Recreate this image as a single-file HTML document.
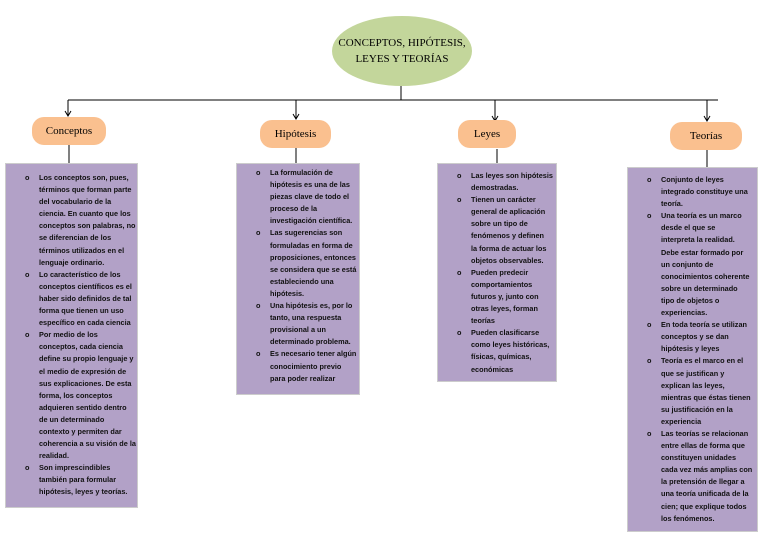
<!DOCTYPE html>
<html><head><meta charset="utf-8"><style>
body{margin:0;width:768px;height:548px;background:#fff;position:relative;overflow:hidden;font-family:"Liberation Sans",sans-serif}
.e{position:absolute;left:332px;top:16px;width:140px;height:70px;border-radius:50%;background:#c3d69b;text-align:center;font-family:"Liberation Serif",serif;font-size:11px;line-height:16px;box-sizing:border-box;padding-top:19px}
.p{position:absolute;height:28px;border-radius:12px;background:#fac08f;font-family:"Liberation Serif",serif;font-size:11px;line-height:28px;text-align:center}
.b{position:absolute;background:#b2a1c7;border:1px solid #ccc;box-sizing:border-box}
.b ul{margin:0;padding:0;list-style:none}
.b li{position:relative;padding-left:33px;font-size:7.3px;font-weight:bold;line-height:12.1px;white-space:nowrap;color:#111}
.b li:before{content:"o";position:absolute;left:19px;top:0}
</style></head><body>
<svg width="768" height="548" style="position:absolute;left:0;top:0">
<g stroke="#000" stroke-width="1" fill="none">
<line x1="401" y1="86" x2="401" y2="100"/>
<line x1="68" y1="100" x2="718" y2="100"/>
<line x1="68" y1="100" x2="68" y2="116"/><path d="M65 111 L68 116 L71 111"/>
<line x1="296" y1="100" x2="296" y2="119"/><path d="M293 114 L296 119 L299 114"/>
<line x1="495" y1="100" x2="495" y2="121"/><path d="M492 116 L495 121 L498 116"/>
<line x1="707" y1="100" x2="707" y2="121"/><path d="M704 116 L707 121 L710 116"/>
<line x1="69" y1="145" x2="69" y2="163"/>
<line x1="296" y1="148" x2="296" y2="163"/>
<line x1="497" y1="149" x2="497" y2="163"/>
<line x1="707" y1="149" x2="707" y2="167"/>
</g></svg>
<div class="e">CONCEPTOS, HIPÓTESIS,<br>LEYES Y TEORÍAS</div>
<div class="p" style="left:32px;top:117px;width:74px">Conceptos</div>
<div class="p" style="left:260px;top:120px;width:71px">Hipótesis</div>
<div class="p" style="left:458px;top:120px;width:58px">Leyes</div>
<div class="p" style="left:670px;top:122px;width:72px">Teorías</div>

<div class="b" style="left:5px;top:163px;width:133px;height:345px;padding-top:8px"><ul>
<li>Los conceptos son, pues,<br>términos que forman parte<br>del vocabulario de la<br>ciencia. En cuanto que los<br>conceptos son palabras, no<br>se diferencian de los<br>términos utilizados en el<br>lenguaje ordinario.</li>
<li>Lo característico de los<br>conceptos científicos es el<br>haber sido definidos de tal<br>forma que tienen un uso<br>específico en cada ciencia</li>
<li>Por medio de los<br>conceptos, cada ciencia<br>define su propio lenguaje y<br>el medio de expresión de<br>sus explicaciones. De esta<br>forma, los conceptos<br>adquieren sentido dentro<br>de un determinado<br>contexto y permiten dar<br>coherencia a su visión de la<br>realidad.</li>
<li>Son imprescindibles<br>también para formular<br>hipótesis, leyes y teorías.</li></ul></div>

<div class="b" style="left:236px;top:163px;width:124px;height:232px;padding-top:3px"><ul>
<li>La formulación de<br>hipótesis es una de las<br>piezas clave de todo el<br>proceso de la<br>investigación científica.</li>
<li>Las sugerencias son<br>formuladas en forma de<br>proposiciones, entonces<br>se considera que se está<br>estableciendo una<br>hipótesis.</li>
<li>Una hipótesis es, por lo<br>tanto, una respuesta<br>provisional a un<br>determinado problema.</li>
<li>Es necesario tener algún<br>conocimiento previo<br>para poder realizar</li></ul></div>

<div class="b" style="left:437px;top:163px;width:120px;height:219px;padding-top:6px"><ul>
<li>Las leyes son hipótesis<br>demostradas.</li>
<li>Tienen un carácter<br>general de aplicación<br>sobre un tipo de<br>fenómenos y definen<br>la forma de actuar los<br>objetos observables.</li>
<li>Pueden predecir<br>comportamientos<br>futuros y, junto con<br>otras leyes, forman<br>teorías</li>
<li>Pueden clasificarse<br>como leyes históricas,<br>físicas, químicas,<br>económicas</li></ul></div>

<div class="b" style="left:627px;top:167px;width:131px;height:365px;padding-top:6px"><ul>
<li>Conjunto de leyes<br>integrado constituye una<br>teoría.</li>
<li>Una teoría es un marco<br>desde el que se<br>interpreta la realidad.<br>Debe estar formado por<br>un conjunto de<br>conocimientos coherente<br>sobre un determinado<br>tipo de objetos o<br>experiencias.</li>
<li>En toda teoría se utilizan<br>conceptos y se dan<br>hipótesis y leyes</li>
<li>Teoría es el marco en el<br>que se justifican y<br>explican las leyes,<br>mientras que éstas tienen<br>su justificación en la<br>experiencia</li>
<li>Las teorías se relacionan<br>entre ellas de forma que<br>constituyen unidades<br>cada vez más amplias con<br>la pretensión de llegar a<br>una teoría unificada de la<br>cien; que explique todos<br>los fenómenos.</li></ul></div>
</body></html>
